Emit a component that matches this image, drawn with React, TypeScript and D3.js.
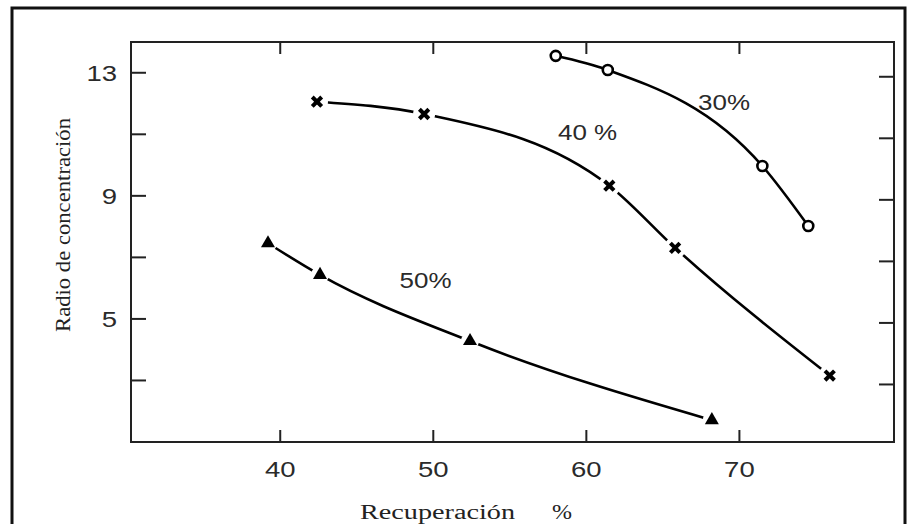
import * as d3 from "d3";

// recuperación (%) y radio de concentración
const rec30 = [58.0, 61.4, 71.5, 74.5];
const rad30 = [13.55, 13.09, 9.97, 8.02];
const rec40 = [42.4, 49.4, 61.5, 65.8, 75.9];
const rad40 = [12.06, 11.66, 9.33, 7.31, 3.16];
const rec50 = [39.2, 42.6, 52.4, 68.2];
const rad50 = [7.46, 6.43, 4.28, 1.71];

const xTicks = [40, 50, 60, 70];
const yTicks = [3, 5, 7, 9, 11, 13];
const yLabels = [5, 9, 13];

const seriesNames = ["30%", "40 %", "50%"];
// posición (en unidades de datos) de la etiqueta de cada curva
const labelX = [67.3, 58.15, 47.8];
const labelY = [11.79, 10.82, 6.0];

const W = 908;
const H = 524;
const plot = { left: 131, right: 894, top: 42, bottom: 442 };

const sans = "'Liberation Sans', Arial, sans-serif";
const serif = "'Liberation Serif', 'Times New Roman', serif";

const App = () => {
  const xScale = d3.scaleLinear().domain([30.25, 80.1]).range([plot.left, plot.right]);
  const yScale = d3.scaleLinear().domain([1, 14]).range([plot.bottom, plot.top]);

  const line = d3
    .line<[number, number]>()
    .x((d) => xScale(d[0]))
    .y((d) => yScale(d[1]))
    .curve(d3.curveMonotoneX);

  const pts = (xs: number[], ys: number[]) => xs.map((x, i) => [x, ys[i]] as [number, number]);
  const p30 = pts(rec30, rad30);
  const p40 = pts(rec40, rad40);
  const p50 = pts(rec50, rad50);

  const times = d3.symbol(d3.symbolTimes, 60)();
  const tri = d3.symbol(d3.symbolTriangle, 85)();

  return (
    <svg width={W} height={H} style={{ position: "absolute", left: 0, top: 0, background: "#fff" }}>
      <rect x={0} y={0} width={W} height={H} fill="#fff" />
      {/* marco exterior */}
      <rect x={12} y={8} width={893} height={530} fill="none" stroke="#111" strokeWidth={3} />

      {/* marco del gráfico */}
      <rect
        x={plot.left}
        y={plot.top}
        width={plot.right - plot.left}
        height={plot.bottom - plot.top}
        fill="none"
        stroke="#222"
        strokeWidth={2}
      />

      {xTicks.map((t) => (
        <g key={"x" + t}>
          <line x1={xScale(t)} x2={xScale(t)} y1={plot.bottom} y2={plot.bottom - 12} stroke="#222" strokeWidth={2} />
          <line x1={xScale(t)} x2={xScale(t)} y1={plot.top} y2={plot.top + 12} stroke="#222" strokeWidth={2} />
          <text
            transform={`translate(${xScale(t)},${plot.bottom + 35}) scale(1.25,1)`}
            textAnchor="middle"
            fontFamily={sans}
            fontSize={22}
            fill="#2a2a2a"
          >
            {t}
          </text>
        </g>
      ))}

      {yTicks.map((t) => (
        <g key={"y" + t}>
          <line x1={plot.left} x2={plot.left + 15} y1={yScale(t)} y2={yScale(t)} stroke="#222" strokeWidth={2} />
          <line x1={plot.right} x2={plot.right - 15} y1={yScale(t) + 4} y2={yScale(t) + 4} stroke="#222" strokeWidth={2} />
        </g>
      ))}
      {yLabels.map((t) => (
        <text
          key={"yl" + t}
          transform={`translate(117,${yScale(t) + 8}) scale(1.25,1)`}
          textAnchor="end"
          fontFamily={sans}
          fontSize={22}
          fill="#2a2a2a"
        >
          {t}
        </text>
      ))}

      {/* títulos de ejes */}
      <text
        x={360}
        y={519}
        fontFamily={serif}
        fontSize={20}
        fill="#222"
        textLength={155}
        lengthAdjust="spacingAndGlyphs"
      >
        Recuperación
      </text>
      <text x={552} y={519} fontFamily={serif} fontSize={20} fill="#222" textLength={20} lengthAdjust="spacingAndGlyphs">
        %
      </text>
      <text
        transform="translate(70,225) rotate(-90)"
        textAnchor="middle"
        fontFamily={serif}
        fontSize={20}
        fill="#222"
        textLength={214}
        lengthAdjust="spacingAndGlyphs"
      >
        Radio de concentración
      </text>

      {/* curvas */}
      <path d={line(p30) ?? ""} fill="none" stroke="#000" strokeWidth={2.6} />
      <path d={line(p40) ?? ""} fill="none" stroke="#000" strokeWidth={2.6} />
      <path d={line(p50) ?? ""} fill="none" stroke="#000" strokeWidth={2.6} />

      {/* marcadores 30% */}
      {p30.map((d, i) => (
        <circle key={"c" + i} cx={xScale(d[0])} cy={yScale(d[1])} r={5} fill="#fff" stroke="#000" strokeWidth={2.6} />
      ))}
      {/* marcadores 40% con hueco en la línea */}
      {p40.map((d, i) => (
        <g key={"x" + i} transform={`translate(${xScale(d[0])},${yScale(d[1])})`}>
          <circle r={11} fill="#fff" />
          <path d={times ?? ""} fill="none" stroke="#000" strokeWidth={4} />
        </g>
      ))}
      {/* marcadores 50% */}
      {p50.map((d, i) => (
        <g key={"t" + i} transform={`translate(${xScale(d[0])},${yScale(d[1])})`}>
          <circle r={9} fill="#fff" />
          <path d={tri ?? ""} fill="#000" />
        </g>
      ))}

      {seriesNames.map((s, i) => (
        <text
          key={s}
          transform={`translate(${xScale(labelX[i])},${yScale(labelY[i])}) scale(1.18,1)`}
          fontFamily={sans}
          fontSize={22}
          fill="#2a2a2a"
        >
          {s}
        </text>
      ))}
    </svg>
  );
};

export default App;
